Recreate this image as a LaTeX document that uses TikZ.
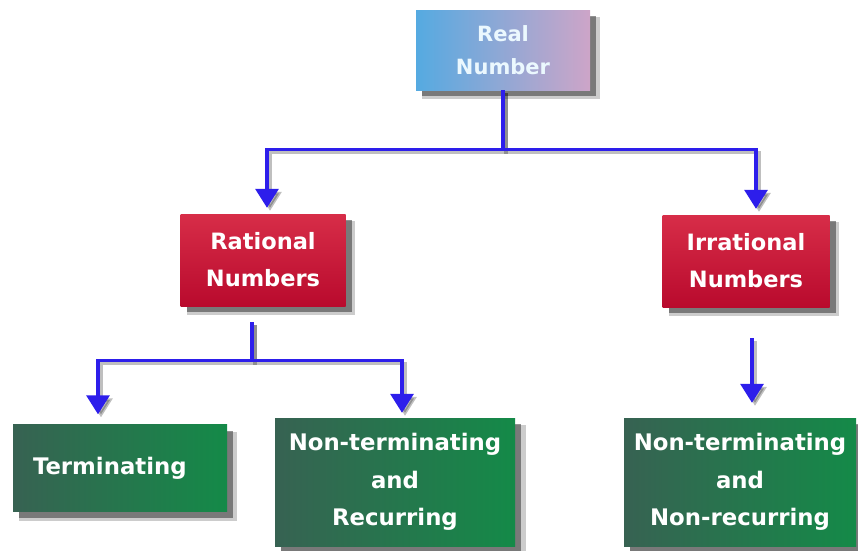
\documentclass[tikz,border=0pt]{standalone}
\usepackage{fontspec}
\setmainfont{DejaVu Sans}
\usetikzlibrary{arrows.meta,shadows,calc}
\definecolor{connblue}{RGB}{45,30,235}
\definecolor{realL}{RGB}{85,170,225}
\definecolor{realR}{RGB}{205,165,200}
\definecolor{redT}{RGB}{215,45,72}
\definecolor{redB}{RGB}{185,10,45}
\definecolor{greenL}{RGB}{55,98,82}
\definecolor{greenR}{RGB}{20,138,72}
\tikzset{
  softshadow/.style={
    general shadow={shadow xshift=8pt, shadow yshift=-8pt, fill=black, opacity=0.2, shadow scale=1.02},
    general shadow={shadow xshift=6pt, shadow yshift=-6pt, fill=black!85, opacity=0.5}},
  box/.style={softshadow, rectangle, inner sep=0pt, align=center, text=white, font=\bfseries},
  realbox/.style={box, left color=realL, right color=realR, text=white!92!cyan,
    minimum width=174pt, minimum height=80pt, font=\bfseries\fontsize{21}{33}\selectfont},
  redbox/.style={box, top color=redT, bottom color=redB,
    minimum width=165pt, minimum height=92pt, font=\bfseries\fontsize{22.5}{37}\selectfont},
  greenbox/.style={box, left color=greenL, right color=greenR,
    font=\bfseries\fontsize{22.8}{37.5}\selectfont},
  arr/.style={draw=connblue, line width=3.2pt, -{Triangle[width=23pt,length=19pt]},
    preaction={draw=black, opacity=0.25, line width=3.2pt, transform canvas={shift={(3pt,-3pt)}}}}
}
\begin{document}
\begin{tikzpicture}[x=1pt,y=-1pt]
\useasboundingbox (0,0) rectangle (858,550);

\node[realbox] (real) at (503,50) {Real\\Number};
\node[redbox] (rat) at (263,260) {Rational\\Numbers};
\node[redbox, minimum width=167pt] (irr) at (746,261) {Irrational\\Numbers};
\node[greenbox, minimum height=87pt, text width=174pt, inner xsep=20pt, align=left] (term) at (120,468) {Terminating};
\node[greenbox, minimum width=240pt, minimum height=128pt] (rec) at (395,482) {Non-terminating\\and\\Recurring};
\node[greenbox, minimum width=232pt, minimum height=128pt] (nrec) at (740,482) {Non-terminating\\and\\Non-recurring};

\draw[arr] (real.south) -- ++(0,59) -| ([shift={(4pt,6pt)}]rat.north);
\draw[arr] (real.south) -- ++(0,59) -| ([shift={(10pt,6pt)}]irr.north);
\draw[arr] ([shift={(-11pt,-16pt)}]rat.south) -- ++(0,38) -| ([shift={(-22pt,10pt)}]term.north);
\draw[arr] ([shift={(-11pt,-16pt)}]rat.south) -- ++(0,38) -| ([shift={(7pt,5pt)}]rec.north);
\draw[arr] ([shift={(6pt,-31pt)}]irr.south) -- ([shift={(12pt,15pt)}]nrec.north);
\end{tikzpicture}
\end{document}
